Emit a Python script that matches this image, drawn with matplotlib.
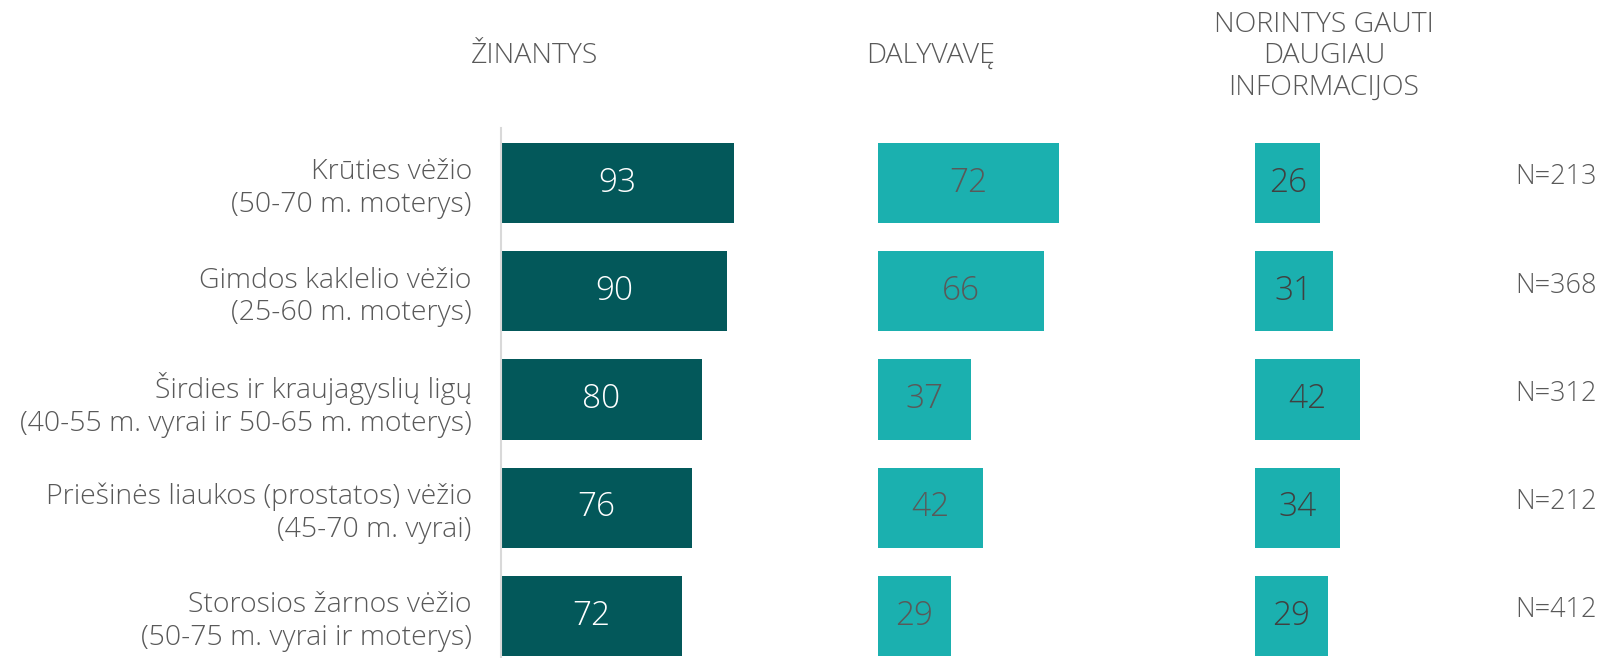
import matplotlib
matplotlib.use("Agg")
import matplotlib.pyplot as plt
from matplotlib import font_manager

categories = [
    "Krūties vėžio\n(50-70 m. moterys)",
    "Gimdos kaklelio vėžio\n(25-60 m. moterys)",
    "Širdies ir kraujagyslių ligų\n(40-55 m. vyrai ir 50-65 m. moterys)",
    "Priešinės liaukos (prostatos) vėžio\n(45-70 m. vyrai)",
    "Storosios žarnos vėžio\n(50-75 m. vyrai ir moterys)",
]
zinantys = [93, 90, 80, 76, 72]
dalyvave = [72, 66, 37, 42, 29]
norintys = [26, 31, 42, 34, 29]
n_labels = ["N=213", "N=368", "N=312", "N=212", "N=412"]
headers = ["ŽINANTYS", "DALYVAVĘ", "NORINTYS GAUTI\nDAUGIAU\nINFORMACIJOS"]

avail = {f.name for f in font_manager.fontManager.ttflist}
FONT = "Open Sans" if "Open Sans" in avail else "DejaVu Sans"
plt.rcParams["font.family"] = [FONT, "DejaVu Sans"]
plt.rcParams["font.weight"] = "light"

W, H = 1606, 658
fig = plt.figure(figsize=(W / 100, H / 100), dpi=100)

DARK = "#03585A"
TEAL = "#1BB0AF"
GRAY = "#595959"

ax_bottom = 0.0
ax_h = 530 / H
lefts = [501, 878, 1255]
scale = 2.51  # px per unit
series = [zinantys, dalyvave, norintys]
colors = [DARK, TEAL, TEAL]
txtcol = ["white", GRAY, "#404040"]
ypos = list(range(len(categories)))

axes = []
for i, (l, vals) in enumerate(zip(lefts, series)):
    ax = fig.add_axes([l / W, ax_bottom, 100 * scale / W, ax_h])
    ax.barh(ypos, vals, height=0.74, color=colors[i], edgecolor="none")
    ax.set_xlim(0, 100)
    ax.set_ylim(4.388, -0.508)
    for s in ["top", "right", "bottom", "left"]:
        ax.spines[s].set_visible(False)
    ax.set_xticks([])
    ax.tick_params(axis="y", length=0)
    for y, v in zip(ypos, vals):
        ax.text(v / 2, y, str(v), ha="center", va="center",
                fontsize=24, color=txtcol[i], fontweight="light")
    axes.append(ax)

ax1 = axes[0]
ax1.spines["left"].set_visible(True)
ax1.spines["left"].set_color("#D9D9D9")
ax1.spines["left"].set_linewidth(1.5)
ax1.set_yticks(ypos)
ax1.set_yticklabels(categories, fontsize=20.5, color=GRAY, fontweight="light")
ax1.tick_params(axis="y", pad=21)
for ax in axes[1:]:
    ax.set_yticks([])

# N labels
for y, t in zip(ypos, n_labels):
    axes[2].annotate(t, xy=(0, y), xycoords=("figure fraction", "data"),
                     xytext=(1515, 4), textcoords=("figure pixels", "offset points"),
                     ha="left", va="center", fontsize=19.5, color=GRAY)

# headers
hx = [535, 931, 1324]
for x, h in zip(hx, headers):
    fig.text(x / W, 1 - 56 / H, h, ha="center", va="center", fontsize=20.5,
             color=GRAY, linespacing=1.16)

fig.savefig("out.png", dpi=100)
